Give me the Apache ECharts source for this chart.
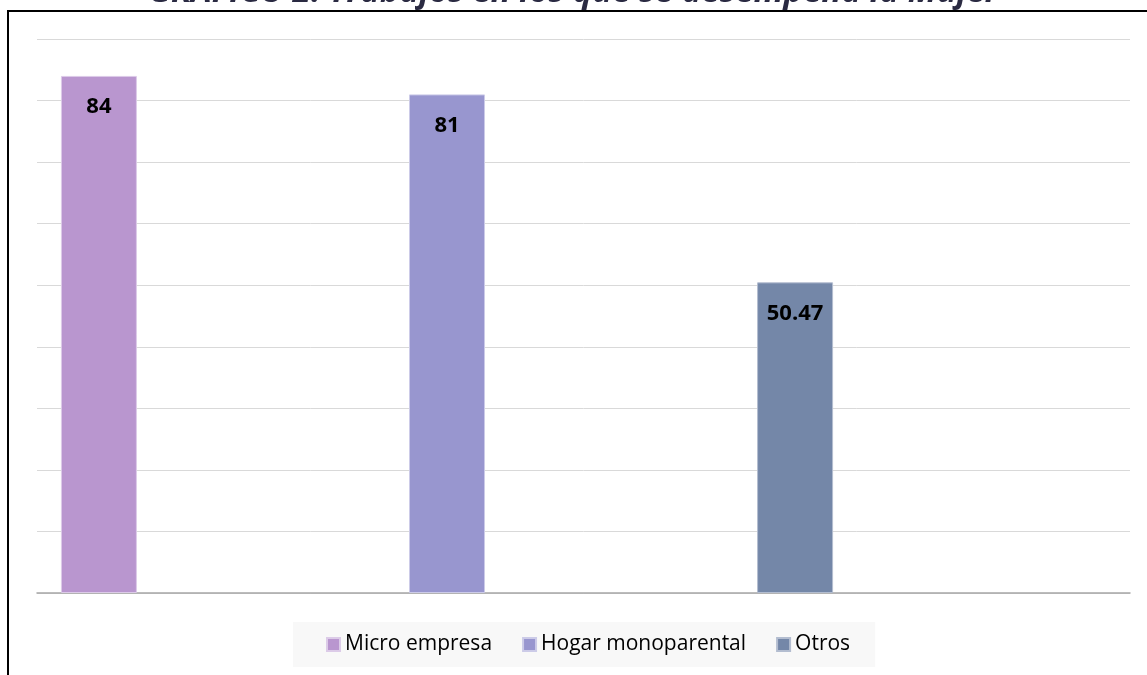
<!DOCTYPE html>
<html>
<head>
<meta charset="utf-8">
<script src="https://cdn.jsdelivr.net/npm/echarts@6/dist/echarts.min.js"></script>
<style>
  html, body { margin: 0; padding: 0; background: #ffffff; }
  #chart { width: 1147px; height: 675px; }
</style>
</head>
<body>
<div id="chart"></div>
<script>
const titleText = 'GRAFICO 2. Trabajos en los que se desempeña la Mujer';
const category = ['Trabajos'];
const seriesNames = ['Micro empresa', 'Hogar monoparental', 'Otros'];
const seriesValues = [84, 81, 50.47];
const seriesColors = ['#b996cf', '#9896cf', '#7487a8'];
const borderColors = ['#dccbe8', '#cccbe8', '#b3bdd0'];
const yMin = 0, yMax = 90, yInterval = 10;

const chart = echarts.init(document.getElementById('chart'), null, { renderer: 'canvas' });

const series = seriesNames.map((name, i) => ({
  name: name,
  type: 'bar',
  xAxisIndex: 1,
  yAxisIndex: 1,
  barWidth: 76,
  barGap: '358%',
  data: [seriesValues[i]],
  itemStyle: { color: seriesColors[i], borderColor: borderColors[i], borderWidth: 1 },
  label: {
    show: true,
    position: 'insideTop',
    distance: 20,
    color: '#000000',
    fontWeight: 'bold',
    fontSize: 22,
    fontFamily: 'Open Sans',
    formatter: (p) => String(p.value)
  },
  emphasis: { disabled: true }
}));

chart.setOption({
  backgroundColor: '#ffffff',
  animation: false,
  title: {
    text: titleText,
    left: 'center',
    top: -24,
    padding: 0,
    textStyle: {
      fontFamily: 'Open Sans',
      fontSize: 33,
      lineHeight: 33,
      fontWeight: 'bold',
      fontStyle: 'italic',
      color: '#2a2a42'
    }
  },
  legend: {
    data: seriesNames,
    top: 622,
    left: 293,
    padding: [12, 25, 12, 33],
    backgroundColor: '#f8f8f8',
    itemWidth: 13,
    itemHeight: 13,
    itemGap: 30,
    icon: 'rect',
    textStyle: { fontFamily: 'Open Sans', fontSize: 21, lineHeight: 21, color: '#000000' }
  },
  grid: [
    { left: 37, right: 17, top: 39, bottom: 82 },
    { left: 37, width: 820, top: 39, bottom: 82 }
  ],
  xAxis: [
    { type: 'category', gridIndex: 0, data: category, axisLine: { lineStyle: { color: '#a6a6a6', width: 1.5 } }, axisTick: { show: false }, axisLabel: { show: false } },
    { type: 'category', gridIndex: 1, data: category, axisLine: { show: false }, axisTick: { show: false }, axisLabel: { show: false } }
  ],
  yAxis: [
    { type: 'value', gridIndex: 0, min: yMin, max: yMax, interval: yInterval, axisLine: { show: false }, axisTick: { show: false }, axisLabel: { show: false }, splitLine: { lineStyle: { color: '#d9d9d9', width: 1 } } },
    { type: 'value', gridIndex: 1, min: yMin, max: yMax, interval: yInterval, axisLine: { show: false }, axisTick: { show: false }, axisLabel: { show: false }, splitLine: { show: false } }
  ],
  graphic: [
    { type: 'line', shape: { x1: 7, y1: 11, x2: 1147, y2: 11 }, style: { stroke: '#000000', lineWidth: 2 }, z: 10 },
    { type: 'line', shape: { x1: 8, y1: 10, x2: 8, y2: 675 }, style: { stroke: '#000000', lineWidth: 2 }, z: 10 }
  ],
  series: series
});
</script>
</body>
</html>
